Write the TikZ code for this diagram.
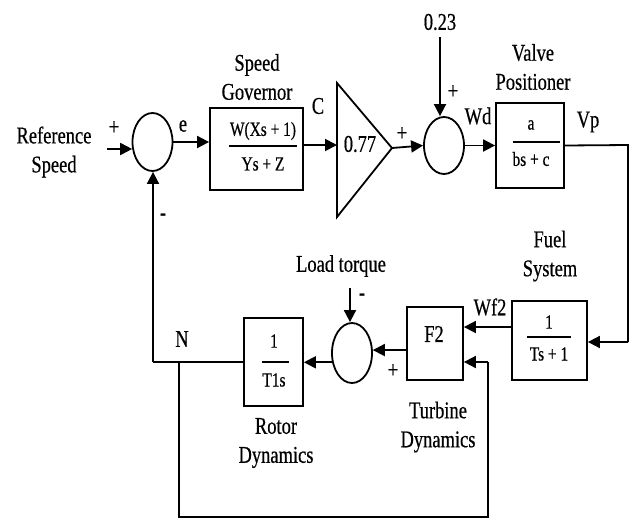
\documentclass[tikz,border=0pt]{standalone}
\usepackage{fontspec}
\setmainfont{Liberation Serif}[FakeStretch=0.77,FakeBold=0.5]
\usetikzlibrary{shapes.geometric,arrows.meta}
\begin{document}
\begin{tikzpicture}[x=1pt,y=-1pt,
  line width=1.8pt,
  lbl/.style={font=\fontsize{24}{29}\selectfont, align=center, inner sep=0pt},
  frt/.style={font=\fontsize{20}{24}\selectfont, inner sep=0pt},
  sgn/.style={font=\fontsize{24}{24}\selectfont, inner sep=0pt},
  blk/.style={draw, rectangle, inner sep=0pt},
  sumj/.style={draw, ellipse, minimum width=40pt, minimum height=58pt, inner sep=0pt},
  arr/.style={-{Triangle[length=12pt,width=12pt]}},
  fbar/.style={line width=2.4pt}]
\useasboundingbox (0,0) rectangle (638,520);

% ---------- top row ----------
\node[lbl] (ref) at (54,152) {Reference\\Speed};
\node[sgn] (p1) at (114,128) {+};
\node[sumj] (s1) at (152.5,142) {};
\coordinate (in) at (107,149);
\node[lbl] (e) at (183,126) {e};

\node[blk, minimum width=93pt, minimum height=82pt] (gov) at (256.5,149) {};
\node[frt] (govn) at (263,131) {W(Xs + 1)};
\draw[fbar] (229,146) -- (297,146);
\node[frt] (govd) at (263,164) {Ys + Z};
\node[lbl] (govl) at (257,77) {Speed\\Governor};
\node[lbl] (c) at (318,106) {C};

\coordinate (tL) at (337,145);
\coordinate (tT) at (337,83);
\coordinate (tB) at (337,217);
\coordinate (tA) at (392,148);
\draw[line join=miter] (tT) -- (tA) -- (tB) -- cycle;
\node[lbl] (gain) at (360,144) {0.77};
\node[sgn] (p2) at (402,134) {+};

\node[sumj, minimum height=57pt] (s2) at (444,145.5) {};
\node[lbl] (k) at (440,22) {0.23};
\node[sgn] (p3) at (453,92) {+};
\node[lbl] (wd) at (478,116) {Wd};

\node[blk, minimum width=68pt, minimum height=85pt] (vp) at (530,145.5) {};
\node[frt] (vpn) at (531,125) {a};
\draw[fbar] (513,142) -- (560,142);
\node[frt] (vpd) at (531,159) {bs + c};
\node[lbl] (vpl) at (533,67) {Valve\\Positioner};
\node[lbl] (vpo) at (588,122) {Vp};
\coordinate (rc) at (628,145);

% ---------- bottom row ----------
\node[blk, minimum width=75pt, minimum height=79pt] (fs) at (549.5,340.5) {};
\node[frt] (fsn) at (549,322) {1};
\draw[fbar] (527,337) -- (571,337);
\node[frt] (fsd) at (549,354) {Ts + 1};
\node[lbl] (fsl) at (550,256) {Fuel\\System};
\node[lbl] (wf) at (490,307) {Wf2};

\node[blk, minimum width=56pt, minimum height=73pt] (f2) at (435,343.5) {};
\node[lbl] (f2t) at (434,334) {F2};
\node[lbl] (tdl) at (438,427) {Turbine\\Dynamics};

\node[sumj, minimum height=60pt] (s3) at (352,353) {};
\node[sgn] (p4) at (393,371) {+};
\node[lbl] (lt) at (341,266) {Load torque};
\coordinate (ltt) at (350,288);
\node[sgn] (m2) at (362,297) {-};

\node[blk, minimum width=59pt, minimum height=88pt] (t1) at (273.5,362) {};
\node[frt] (t1n) at (274,341) {1};
\draw[fbar] (262,362) -- (289,362);
\node[frt] (t1d) at (274,380) {T1s};
\node[lbl] (rdl) at (276,443) {Rotor\\Dynamics};
\node[lbl] (n) at (182,339) {N};
\node[sgn] (m1) at (163,217) {-};

\coordinate (fbL) at (153,362);
\coordinate (br) at (179,362);
\coordinate (bl) at (179,517);
\coordinate (brr) at (488,517);
\coordinate (bru) at (488,362);

% ---------- connectors ----------
\draw[arr] (in) -- (s1.199);
\draw[arr] (s1.east) -- (s1.east -| gov.west);
\draw[arr] (gov.east |- tL) -- (tL);
\draw[arr] (tA) -- (s2.west);
\draw[arr] (k.south |- 0,37) -- (s2.north -| k.south);
\draw[arr] (s2.east) -- (s2.east -| vp.west);
\draw (vp.east) -- (rc) -- (rc |- 0,342);
\draw[arr] (rc |- 0,342) -- (fs.east |- 0,342);
\draw[arr] (fs.west |- 0,327) -- (f2.east |- 0,327);
\draw[arr] (f2.west |- 0,350) -- (s3.8);
\draw[arr] (ltt) -- (s3.north -| ltt);
\draw[arr] (s3.205) -- (t1.east |- s3.205);
\draw (t1.west) -- (fbL);
\draw[arr] (fbL) -- (s1.south -| fbL);
\draw (br) -- (bl) -- (brr) -- (bru);
\draw[arr] (bru) -- (f2.east |- bru);
\end{tikzpicture}
\end{document}
